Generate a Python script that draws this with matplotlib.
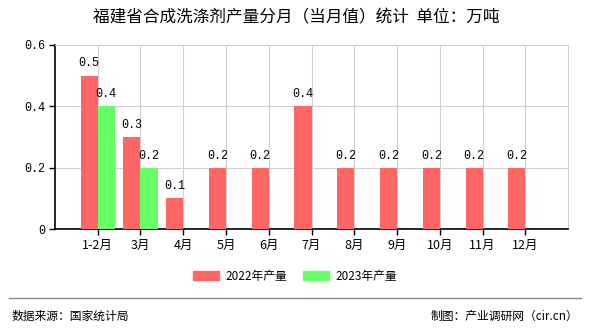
import numpy as np
import matplotlib.pyplot as plt
from matplotlib.lines import Line2D

plt.rcParams['font.family'] = ['Noto Sans CJK SC', 'DejaVu Sans']

months = ['1-2月', '3月', '4月', '5月', '6月', '7月', '8月', '9月', '10月', '11月', '12月']
output_2022 = [0.5, 0.3, 0.1, 0.2, 0.2, 0.4, 0.2, 0.2, 0.2, 0.2, 0.2]
output_2023 = [0.4, 0.2]
y_ticks = [0, 0.2, 0.4, 0.6]

red = '#ff6666'
green = '#66ff66'
mono = ['Liberation Mono', 'DejaVu Sans Mono']


def fmt(v):
    return '%g' % v


def main():
    fig = plt.figure(figsize=(5.9, 3.3), dpi=100)
    ax = fig.add_axes([0.093, 0.306, 0.87, 0.558])

    w = 0.4
    x22 = np.arange(len(output_2022))
    x23 = np.arange(len(output_2023))
    ax.bar(x22 - w / 2, output_2022, width=w, color=red, zorder=3)
    ax.bar(x23 + w / 2, output_2023, width=w, color=green, zorder=3)

    for x, v in zip(x22, output_2022):
        ax.text(x - w / 2, v + 0.02, fmt(v), ha='center', va='bottom',
                fontsize=8.5, family=mono)
    for x, v in zip(x23, output_2023):
        ax.text(x + w / 2, v + 0.02, fmt(v), ha='center', va='bottom',
                fontsize=8.5, family=mono)

    ax.set_xlim(-1, len(months))
    ax.set_ylim(0, 0.6)
    ax.set_xticks(x22)
    ax.set_xticklabels(months, fontsize=9)
    ax.set_yticks(y_ticks)
    ax.set_yticklabels([fmt(v) for v in y_ticks], fontsize=8.5, family=mono)
    ax.grid(True, color='#d0d0d0', linewidth=0.8, zorder=0)
    ax.set_axisbelow(True)
    for s in ['top', 'right']:
        ax.spines[s].set_color('#d0d0d0')
        ax.spines[s].set_linewidth(0.8)
    for s in ['left', 'bottom']:
        ax.spines[s].set_color('black')
        ax.spines[s].set_linewidth(1.2)
    ax.tick_params(axis='both', length=4, width=1, color='black', pad=3)

    fig.text(0.502, 0.945, '福建省合成洗涤剂产量分月（当月值）统计  单位：万吨',
             ha='center', va='center', fontsize=12)

    handles = [plt.Rectangle((0, 0), 1, 1, color=red),
               plt.Rectangle((0, 0), 1, 1, color=green)]
    fig.legend(handles, ['2022年产量', '2023年产量'], loc='center',
               bbox_to_anchor=(0.5, 0.163), ncol=2, frameon=False,
               fontsize=8.5, handlelength=2.2, handleheight=0.8,
               columnspacing=1.4, handletextpad=0.5)

    fig.add_artist(Line2D([0.015, 0.985], [0.097, 0.097], color='#888888',
                          linewidth=1))
    fig.text(0.02, 0.042, '数据来源：国家统计局', ha='left', va='center', fontsize=8.5)
    fig.text(0.98, 0.042, '制图：产业调研网（cir.cn）', ha='right', va='center',
             fontsize=8.5)

    fig.savefig('out.png', dpi=100)


if __name__ == '__main__':
    main()
